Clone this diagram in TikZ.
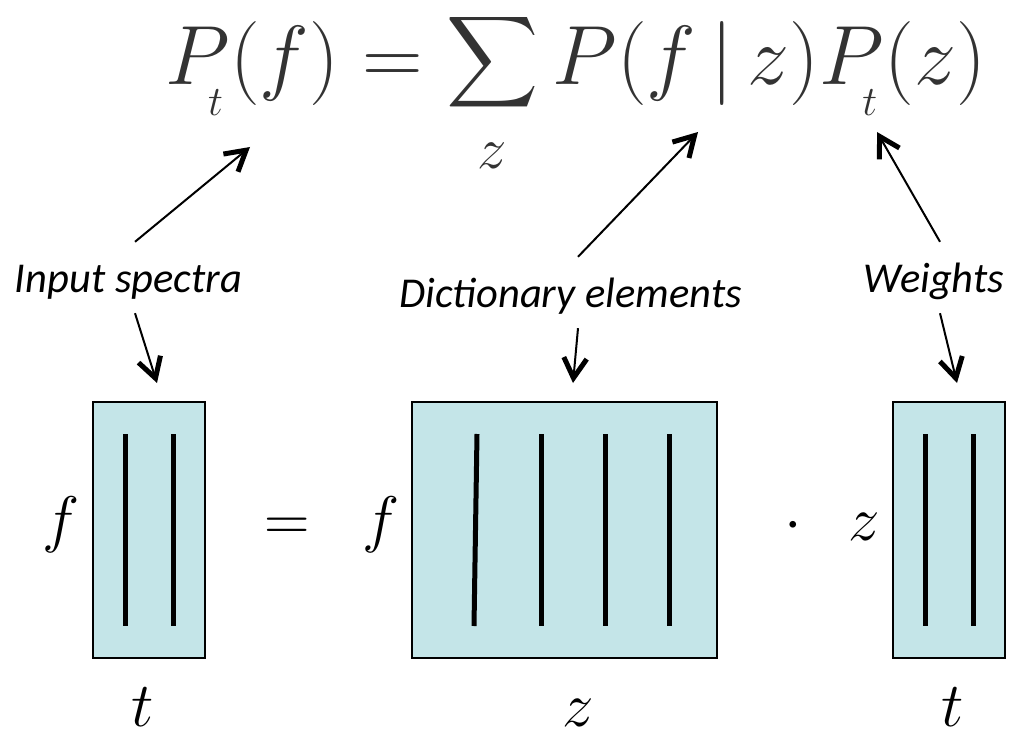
\RequirePackage{fix-cm}
\documentclass[tikz,border=0pt]{standalone}
\usepackage{amsmath}
\usepackage{fontspec}
\newfontfamily\calibri{Carlito}
\usepackage{xcolor}
\usepackage{tikz}
\usetikzlibrary{arrows.meta}

\definecolor{cellblue}{RGB}{196,229,232}
\definecolor{eqgray}{RGB}{51,51,51}

\newcommand\lowt{_{\raisebox{-0.21em}{\kern-0.12em$\scriptscriptstyle t$\kern0.08em}}}
\newcommand\ssum{\mathop{\vcenter{\hbox{\resizebox*{!}{105pt}{$\displaystyle\sum$}}}}\limits}

\begin{document}
\begin{tikzpicture}[x=1pt,y=-1pt,
    mat/.style={draw=black, line width=2pt, fill=cellblue, inner sep=0pt},
    spec/.style={line width=5pt},
    lbl/.style={font=\calibri\itshape\fontsize{42.5}{48}\selectfont, inner sep=0pt,
      text height=51pt, text depth=20pt, anchor=base},
    sym/.style={font=\fontsize{63}{70}\selectfont, inner sep=0pt, anchor=base},
    ptr/.style={line width=2pt, -{Straight Barb[length=20pt,width=23pt,line width=5pt]}}]
  \useasboundingbox (0,0) rectangle (1009,735);

  % the model
  \node[anchor=base west, inner sep=0pt, text=eqgray, font=\fontsize{84}{96}\selectfont] (eq) at (165,85)
    {$\displaystyle P\lowt(f) = \ssum_{\rule{0pt}{48pt}z} P(f\,|\,z)P\lowt(z)$};
  \coordinate (eqA) at (250,147);
  \coordinate (eqB) at (698,132);
  \coordinate (eqC) at (877,132);

  % what the terms are
  \node[lbl] (inp) at (128.5,293) {Input spectra};
  \node[lbl] (dict) at (570.5,308) {Dictionary elements};
  \node[lbl] (wts) at (934,293) {Weights};

  % matrices
  \node[mat, minimum width=112pt, minimum height=256pt] (V) at (149,530) {};
  \node[mat, minimum width=305pt, minimum height=256pt] (W) at (564.5,530) {};
  \node[mat, minimum width=112pt, minimum height=256pt] (H) at (949,530) {};
  \foreach \x in {125,173,541,605,669,925,973}
    \draw[spec] (\x,434) -- (\x,626);
  \draw[spec] (477,434) -- (474,626);
  \coordinate (Vin) at (157,383);
  \coordinate (Win) at (573,383);
  \coordinate (Hin) at (957,383);

  \node[sym] (fV) at (61,540) {$f$};
  \node[sym] (eqsign) at (287,540) {$=$};
  \node[sym] (fW) at (381,540) {$f$};
  \node[sym] (dot) at (793,540) {$\cdot$};
  \node[sym] (zH) at (864.5,540) {$z$};
  \node[sym] (tV) at (142.5,726) {$t$};
  \node[sym] (zW) at (578.5,726) {$z$};
  \node[sym] (tH) at (952.5,726) {$t$};

  % pointers
  \draw[ptr] ([xshift=6.5pt]inp.north) -- (eqA);
  \draw[ptr] ([xshift=6.5pt]inp.south) -- (Vin);
  \draw[ptr] ([xshift=7.5pt]dict.north) -- (eqB);
  \draw[ptr] ([xshift=7.5pt]dict.south) -- (Win);
  \draw[ptr] ([xshift=6pt]wts.north) -- (eqC);
  \draw[ptr] ([xshift=6pt]wts.south) -- (Hin);
\end{tikzpicture}
\end{document}
